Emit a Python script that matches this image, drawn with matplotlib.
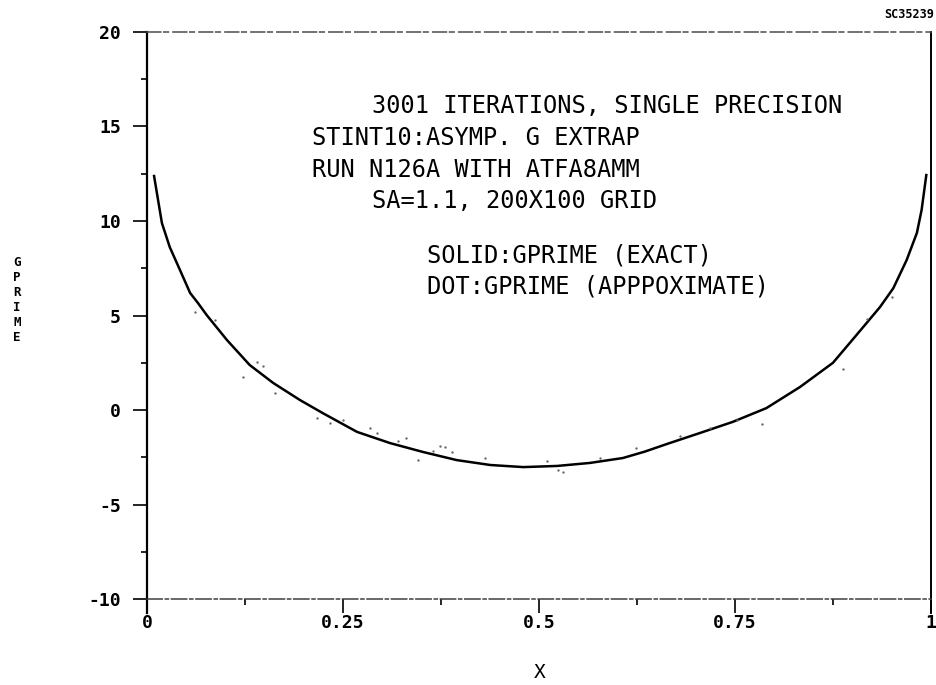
import matplotlib
matplotlib.use("Agg")
import matplotlib.pyplot as plt

plt.rcParams['axes.unicode_minus'] = False

# solid curve: GPRIME (exact)
x_exact = [0.009, 0.019, 0.029, 0.042, 0.055, 0.065, 0.076, 0.102, 0.131, 0.161,
           0.195, 0.224, 0.268, 0.31, 0.352, 0.395, 0.438, 0.48, 0.523, 0.565,
           0.607, 0.635, 0.663, 0.705, 0.747, 0.79, 0.833, 0.875, 0.905, 0.935,
           0.952, 0.969, 0.982, 0.988, 0.994]
g_exact = [12.38, 9.89, 8.62, 7.41, 6.19, 5.66, 5.03, 3.70, 2.38, 1.43,
           0.53, -0.16, -1.16, -1.75, -2.22, -2.65, -2.91, -3.02, -2.96, -2.80,
           -2.54, -2.2, -1.8, -1.22, -0.63, 0.10, 1.22, 2.5, 3.97, 5.45,
           6.45, 7.94, 9.37, 10.58, 12.43]

# dotted: GPRIME (approximate), only the visible specks
x_dot = [0.061, 0.087, 0.14, 0.148, 0.122, 0.163, 0.217, 0.233, 0.25, 0.284,
         0.293, 0.32, 0.33, 0.346, 0.365, 0.374, 0.38, 0.389, 0.431, 0.51,
         0.524, 0.53, 0.578, 0.624, 0.68, 0.718, 0.752, 0.784, 0.888, 0.918, 0.95]
g_dot = [5.19, 4.76, 2.54, 2.33, 1.75, 0.9, -0.42, -0.69, -0.53, -0.95,
         -1.22, -1.64, -1.48, -2.65, -2.17, -1.9, -1.96, -2.22, -2.54, -2.7,
         -3.17, -3.28, -2.54, -2.0, -1.38, -0.95, -0.53, -0.74, 2.17, 4.8, 6.0]

x_ticks = [0, 0.25, 0.5, 0.75, 1]
x_ticklabels = ['0', '0.25', '0.5', '0.75', '1']
x_minor = [0.125, 0.375, 0.625, 0.875]
y_ticks = [-10, -5, 0, 5, 10, 15, 20]
y_minor = [-7.5, -2.5, 2.5, 7.5, 12.5, 17.5]

notes = ["3001 ITERATIONS, SINGLE PRECISION",
         "STINT10:ASYMP. G EXTRAP",
         "RUN N126A WITH ATFA8AMM",
         "SA=1.1, 200X100 GRID",
         "SOLID:GPRIME (EXACT)",
         "DOT:GPRIME (APPPOXIMATE)"]
note_x = [0.287, 0.21, 0.21, 0.287, 0.357, 0.357]
note_y = [16.08, 14.39, 12.7, 11.06, 8.15, 6.56]

mono = 'DejaVu Sans Mono'

fig = plt.figure(figsize=(9.37, 6.85), dpi=100)
ax = fig.add_axes([0.1569, 0.1051, 0.8367, 0.8482])

ax.plot(x_exact, g_exact, color='black', lw=1.8, solid_joinstyle='round')
ax.plot(x_dot, g_dot, ls='none', marker='o', ms=1.7, color='0.4', mec='none')

ax.set_xlim(0, 1)
ax.set_ylim(-10.74, 20)

ax.spines['left'].set_linewidth(1.6)
ax.spines['right'].set_linewidth(1.4)
ax.spines['top'].set_linewidth(1.1)
ax.spines['top'].set_color('0.3')
ax.spines['top'].set_linestyle((0, (9, 2, 3, 3)))
ax.spines['bottom'].set_position(('data', -10))
ax.spines['bottom'].set_linewidth(1.1)
ax.spines['bottom'].set_color('0.25')
ax.spines['bottom'].set_linestyle((0, (10, 2, 2, 2)))

ax.set_xticks(x_ticks)
ax.set_xticklabels(x_ticklabels)
ax.set_xticks(x_minor, minor=True)
ax.set_yticks(y_ticks)
ax.set_yticks(y_minor, minor=True)

ax.tick_params(axis='x', which='major', direction='out', length=10, width=1.2, pad=1)
ax.tick_params(axis='x', which='minor', direction='out', length=4.5, width=1.2)
ax.tick_params(axis='y', which='major', direction='out', length=10, width=1.2, pad=9)
ax.tick_params(axis='y', which='minor', direction='out', length=4, width=1.2)

for lab in ax.get_xticklabels() + ax.get_yticklabels():
    lab.set_fontfamily(mono)
    lab.set_fontweight('bold')
    lab.set_fontsize(13)

for txt, tx, ty in zip(notes, note_x, note_y):
    ax.text(tx, ty, txt, ha='left', va='center', fontsize=17, family=mono)

fig.text(540 / 937, 1 - 673 / 685, 'X', ha='center', va='center', fontsize=14, family=mono)
fig.text(17 / 937, 1 - 300 / 685, 'G\nP\nR\nI\nM\nE', ha='center', va='center',
         fontsize=9, fontweight='bold', family=mono, linespacing=1.2)
fig.text(934 / 937, 1 - 14 / 685, 'SC35239', ha='right', va='center',
         fontsize=8.5, fontweight='bold', family=mono)

fig.savefig('out.png', dpi=100)
